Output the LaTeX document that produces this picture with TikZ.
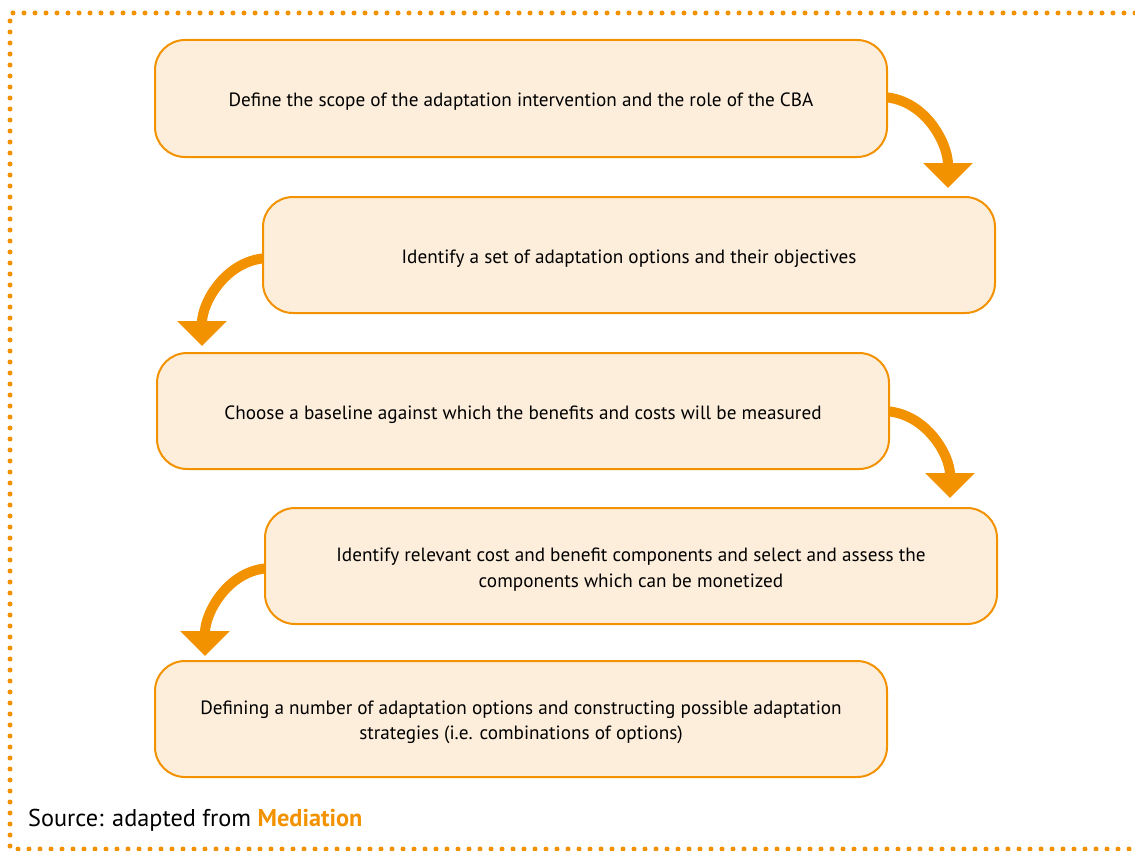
\documentclass[tikz,border=0pt]{standalone}
\usepackage{fontspec}
\setmainfont{PT Sans}
\usetikzlibrary{arrows.meta}
\definecolor{ora}{HTML}{F39200}
\definecolor{boxfill}{HTML}{FDEEDC}
\tikzset{
  stepbox/.style={draw=ora, line width=2pt, fill=boxfill, rounded corners=30pt,
    minimum width=732pt, minimum height=116pt, inner sep=0pt},
  steptext/.style={inner sep=0pt, align=center, yshift=-3.5pt,
    font=\fontsize{19.2}{25.5}\selectfont},
  bigarrow/.style={draw=ora, line width=10pt, -{Triangle[width=48pt,length=25pt]}},
  dotline/.style={draw=ora, line width=5pt, line cap=round, dash pattern=on 0pt off 11pt}
}
\begin{document}
\begin{tikzpicture}[x=1pt,y=-1pt]
\useasboundingbox (0,0) rectangle (1135,851);
% dotted frame
\coordinate (tr) at (1135,13);
\coordinate (tl) at (10,13);
\coordinate (bl) at (10,849);
\coordinate (br) at (1135,849);
\draw[dotline] (tr) -- (tl) -- (bl) -- (br);
% arrows (behind boxes)
\coordinate (a1s) at (880,97);
\coordinate (a1e) at (948,188);
\coordinate (a2s) at (270,258);
\coordinate (a2e) at (202,346);
\coordinate (a3s) at (882,411);
\coordinate (a3e) at (950,498);
\coordinate (a4s) at (272,568);
\coordinate (a4e) at (205,656);
\draw[bigarrow] (a1s) to[out=0,in=90] (a1e);
\draw[bigarrow] (a2s) to[out=180,in=90] (a2e);
\draw[bigarrow] (a3s) to[out=0,in=90] (a3e);
\draw[bigarrow] (a4s) to[out=180,in=90] (a4e);
% boxes
\node[stepbox, minimum height=117pt] (b1) at (521,98.5) {};
\node[stepbox] (b2) at (629,255) {};
\node[stepbox] (b3) at (523,411) {};
\node[stepbox] (b4) at (631,566) {};
\node[stepbox] (b5) at (521,719) {};
\node[steptext] (t1) at (b1.center) {Define the scope of the adaptation intervention and the role of the CBA};
\node[steptext] (t2) at (b2.center) {Identify a set of adaptation options and their objectives};
\node[steptext] (t3) at (b3.center) {Choose a baseline against which the benefits and costs will be measured};
\node[steptext] (t4) at (b4.center) {Identify relevant cost and benefit components and select and assess the\\components which can be monetized};
\node[steptext] (t5) at (b5.center) {Defining a number of adaptation options and constructing possible adaptation\\strategies (i.e. combinations of options)};
% source
\node[anchor=base west, inner sep=0pt, font=\fontsize{24.3}{28}\selectfont] (src) at (28,826) {Source: adapted from \textcolor{ora}{\textbf{Mediation}}};
\end{tikzpicture}
\end{document}
